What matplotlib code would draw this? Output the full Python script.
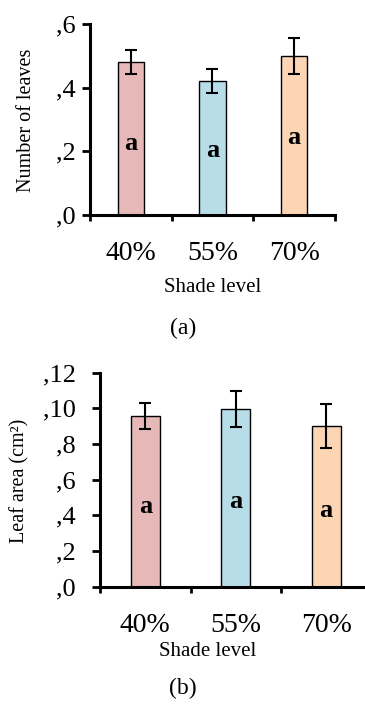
import numpy as np
import matplotlib
matplotlib.use("Agg")
import matplotlib.pyplot as plt
from matplotlib.ticker import FixedLocator

plt.rcParams["font.family"] = ["Liberation Serif", "DejaVu Serif"]

# data
shade = ["40%", "55%", "70%"]
colors = ["#E6B9B8", "#B7DEE8", "#FCD5B5"]

leaves = [0.48, 0.42, 0.50]
leaves_err = [0.038, 0.038, 0.056]
leaves_letter_y = [0.226, 0.204, 0.242]
leaves_ticks = [0.0, 0.2, 0.4, 0.6]
leaves_ticklabels = [",0", ",2", ",4", ",6"]

area = [0.0957, 0.0998, 0.0901]
area_err = [0.0072, 0.0101, 0.0123]
area_letter_y = [0.0449, 0.0477, 0.0430]
area_ticks = [0.0, 0.02, 0.04, 0.06, 0.08, 0.10, 0.12]
area_ticklabels = [",0", ",2", ",4", ",6", ",8", ",10", ",12"]

letters = ["a", "a", "a"]

W, H = 365, 711
fig = plt.figure(figsize=(W / 100, H / 100), dpi=100)


def panel(rect, vals, errs, letter_y, ticks, ticklabels, ylabel, ylab_xy, xlab_xy, ypad, tag, tag_xy):
    ax = fig.add_axes(rect)
    x = np.arange(len(shade))
    ax.bar(x, vals, width=0.32, color=colors, edgecolor="black", linewidth=1.0, zorder=2)
    ax.errorbar(x, vals, yerr=errs, fmt="none", ecolor="black", elinewidth=1.5,
                capsize=4.3, capthick=1.5, zorder=3)
    for xi, yi, t in zip(x, letter_y, letters):
        ax.text(xi, yi, t, ha="center", va="center", fontsize=19, fontweight="bold", zorder=4)
    ax.set_xlim(-0.5, 2.5)
    ax.set_ylim(ticks[0], ticks[-1])
    ax.set_yticks(ticks)
    ax.set_yticklabels(ticklabels, fontsize=19)
    ax.set_xticks(x)
    ax.set_xticklabels(shade, fontsize=20)
    ax.xaxis.set_minor_locator(FixedLocator([-0.5, 0.5, 1.5, 2.5]))
    ax.tick_params(axis="x", which="major", length=0, pad=19)
    ax.tick_params(axis="x", which="minor", length=4, width=2, direction="out")
    ax.tick_params(axis="y", which="major", length=5.5, width=2, direction="out", pad=ypad)
    for s in ["top", "right"]:
        ax.spines[s].set_visible(False)
    for s in ["left", "bottom"]:
        ax.spines[s].set_linewidth(2.2)
    fig.text(ylab_xy[0] / W, 1 - ylab_xy[1] / H, ylabel, rotation=90,
             ha="center", va="center", fontsize=14.5)
    fig.text(xlab_xy[0] / W, 1 - xlab_xy[1] / H, "Shade level", ha="center", va="center", fontsize=15)
    fig.text(tag_xy[0] / W, 1 - tag_xy[1] / H, tag, ha="center", va="center", fontsize=17)
    return ax


panel([90 / W, 1 - 215 / H, 245 / W, 191 / H], leaves, leaves_err, leaves_letter_y,
      leaves_ticks, leaves_ticklabels, "Number of leaves", (27, 120), (213, 287), 5, "(a)", (183, 328))

panel([100 / W, 1 - 586.7 / H, 271.5 / W, 214 / H], area, area_err, area_letter_y,
      area_ticks, area_ticklabels, "Leaf area (cm²)", (20, 481), (207.5, 652), 12, "(b)", (183, 688))

fig.savefig("out.png", dpi=100)
